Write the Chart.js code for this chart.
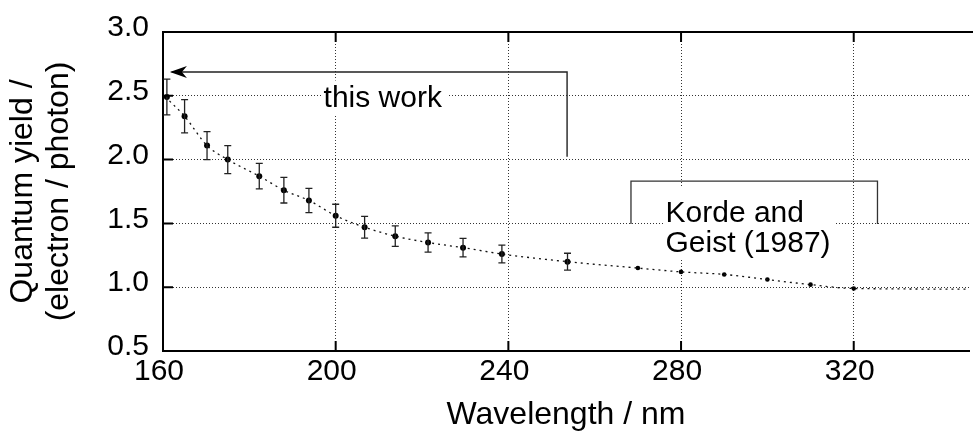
<!DOCTYPE html>
<html>
<head>
<meta charset="utf-8">
<script src="https://cdn.jsdelivr.net/npm/chart.js@4.4.1/dist/chart.umd.min.js"></script>
<style>
html, body { margin: 0; padding: 0; background: #fff; }
#wrap { width: 973px; height: 435px; position: relative; }
</style>
</head>
<body>
<div id="wrap"><canvas id="qyChart"></canvas></div>
<script>
// this work (with error bars)
var workWl = [160.9, 165.0, 170.2, 175.0, 182.3, 188.0, 193.8, 200.0, 206.7, 213.8, 221.4, 229.5, 238.5, 253.7];
var workQy = [2.49, 2.34, 2.11, 2.00, 1.87, 1.76, 1.68, 1.56, 1.47, 1.40, 1.35, 1.31, 1.26, 1.20];
var workErr = [0.14, 0.13, 0.11, 0.11, 0.10, 0.10, 0.095, 0.09, 0.085, 0.08, 0.075, 0.072, 0.07, 0.066];

// Korde and Geist (1987)
var kgWl = [270, 280, 290, 300, 310, 320];
var kgQy = [1.15, 1.12, 1.10, 1.06, 1.02, 0.99];

// dotted guide curve
var fitWl = [161.5, 165.0, 170.2, 175.0, 182.3, 188.0, 193.8, 200.0, 206.7, 213.8, 221.4, 229.5, 238.5, 253.7, 270, 280, 290, 300, 310, 320, 348];
var fitQy = [2.46, 2.34, 2.11, 2.00, 1.87, 1.76, 1.68, 1.56, 1.47, 1.40, 1.35, 1.31, 1.26, 1.20, 1.15, 1.12, 1.10, 1.06, 1.02, 0.99, 0.985];

var xTicks = [160, 200, 240, 280, 320];
var yTicks = [0.5, 1.0, 1.5, 2.0, 2.5, 3.0];

var FONT = "'Liberation Sans', Arial, Helvetica, sans-serif";

function toXY(xs, ys) {
	return xs.map(function (x, i) { return { x: x, y: ys[i] }; });
}

// error bars for "this work"
var errorBars = {
	id: "errorBars",
	afterDatasetsDraw: function (chart) {
		var ctx = chart.ctx, xs = chart.scales.x, ys = chart.scales.y;
		ctx.save();
		ctx.strokeStyle = "#222";
		ctx.lineWidth = 1.3;
		for (var i = 0; i < workWl.length; i++) {
			var px = xs.getPixelForValue(workWl[i]);
			var top = ys.getPixelForValue(workQy[i] + workErr[i]);
			var bot = ys.getPixelForValue(workQy[i] - workErr[i]);
			ctx.beginPath();
			ctx.moveTo(px, top); ctx.lineTo(px, bot);
			ctx.moveTo(px - 3.5, top); ctx.lineTo(px + 3.5, top);
			ctx.moveTo(px - 3.5, bot); ctx.lineTo(px + 3.5, bot);
			ctx.stroke();
		}
		ctx.restore();
	}
};

// top frame line and inward tick marks
var frame = {
	id: "frame",
	afterDraw: function (chart) {
		var ctx = chart.ctx, a = chart.chartArea, xs = chart.scales.x, ys = chart.scales.y;
		ctx.save();
		ctx.strokeStyle = "#000";
		ctx.lineWidth = 2;
		ctx.beginPath();
		ctx.moveTo(a.left - 1, a.top); ctx.lineTo(chart.width, a.top);
		ctx.stroke();
		ctx.beginPath();
		xTicks.forEach(function (v) {
			if (v === xTicks[0]) return;
			var px = xs.getPixelForValue(v);
			ctx.moveTo(px, a.bottom); ctx.lineTo(px, a.bottom - 10);
			ctx.moveTo(px, a.top); ctx.lineTo(px, a.top + 10);
		});
		yTicks.forEach(function (v) {
			if (v === yTicks[0] || v === yTicks[yTicks.length - 1]) return;
			var py = ys.getPixelForValue(v);
			ctx.moveTo(a.left, py); ctx.lineTo(a.left + 10, py);
		});
		ctx.stroke();
		ctx.restore();
	}
};

// labels with their brackets
var notes = {
	id: "notes",
	beforeDatasetsDraw: function (chart) {
		var ctx = chart.ctx, xs = chart.scales.x, ys = chart.scales.y;
		var X = function (v) { return xs.getPixelForValue(v); };
		var Y = function (v) { return ys.getPixelForValue(v); };
		ctx.save();
		ctx.font = "30px " + FONT;
		ctx.fillStyle = "#000";
		ctx.textBaseline = "alphabetic";

		// "this work" arrow
		ctx.fillStyle = "#fff";
		ctx.fillRect(X(196.6), Y(2.62), 126, 34);
		ctx.fillStyle = "#000";
		ctx.fillText("this work", X(197.2), Y(2.41));
		ctx.strokeStyle = "#222";
		ctx.lineWidth = 1.4;
		ctx.beginPath();
		ctx.moveTo(X(162), Y(2.687));
		ctx.lineTo(X(253.6), Y(2.687));
		ctx.lineTo(X(253.6), Y(2.022));
		ctx.stroke();
		ctx.fillStyle = "#000";
		ctx.beginPath();
		ctx.moveTo(X(161.6), Y(2.687));
		ctx.lineTo(X(161.6) + 17, Y(2.687) - 6);
		ctx.lineTo(X(161.6) + 12, Y(2.687));
		ctx.lineTo(X(161.6) + 17, Y(2.687) + 6);
		ctx.closePath();
		ctx.fill();

		// "Korde and Geist (1987)" bracket
		ctx.fillStyle = "#fff";
		ctx.fillRect(X(276), Y(1.78), 172, 72);
		ctx.strokeStyle = "#333";
		ctx.lineWidth = 1.3;
		ctx.beginPath();
		ctx.moveTo(X(268.4), Y(1.496));
		ctx.lineTo(X(268.4), Y(1.831));
		ctx.lineTo(X(325.5), Y(1.831));
		ctx.lineTo(X(325.5), Y(1.496));
		ctx.stroke();
		ctx.fillStyle = "#000";
		ctx.fillText("Korde and", X(276.4), Y(1.508));
		ctx.fillText("Geist (1987)", X(276.4), Y(1.279));
		ctx.restore();
	}
};

new Chart(document.getElementById("qyChart"), {
	type: "scatter",
	data: {
		datasets: [
			{
				label: "curve",
				data: toXY(fitWl, fitQy),
				showLine: true,
				pointRadius: 0,
				borderColor: "#111",
				borderWidth: 1.3,
				borderDash: [2, 4],
				cubicInterpolationMode: "monotone"
			},
			{
				label: "this work",
				data: toXY(workWl, workQy),
				pointRadius: 3,
				pointBackgroundColor: "#000",
				pointBorderColor: "#000",
				pointBorderWidth: 0
			},
			{
				label: "Korde and Geist (1987)",
				data: toXY(kgWl, kgQy),
				pointRadius: 2.3,
				pointBackgroundColor: "#000",
				pointBorderColor: "#000",
				pointBorderWidth: 0
			}
		]
	},
	options: {
		responsive: true,
		maintainAspectRatio: false,
		animation: false,
		layout: { padding: { top: 28, right: 0, left: 0, bottom: 0 } },
		plugins: {
			legend: { display: false },
			tooltip: { enabled: false }
		},
		scales: {
			x: {
				type: "linear",
				min: 160,
				max: 346.7,
				afterFit: function (s) { s.height = 84; },
				afterBuildTicks: function (s) { s.ticks = xTicks.map(function (v) { return { value: v }; }); },
				grid: { color: "#333", lineWidth: 1, drawTicks: false },
				border: { color: "#000", width: 2, dash: [1, 2] },
				ticks: {
					color: "#000",
					padding: 3,
					labelOffset: -4,
					maxRotation: 0,
					font: { family: FONT, size: 30 },
					callback: function (v) { return v; }
				},
				title: {
					display: true,
					text: "Wavelength / nm",
					color: "#000",
					font: { family: FONT, size: 32 },
					padding: { top: 0, bottom: 1 }
				}
			},
			y: {
				type: "linear",
				min: 0.5,
				max: 3.0,
				afterFit: function (s) { s.width = 163; },
				afterBuildTicks: function (s) { s.ticks = yTicks.map(function (v) { return { value: v }; }); },
				grid: { color: "#333", lineWidth: 1, drawTicks: false },
				border: { color: "#000", width: 2, dash: [1, 2] },
				ticks: {
					color: "#000",
					padding: 14,
					labelOffset: -4,
					font: { family: FONT, size: 30 },
					callback: function (v) { return v.toFixed(1); }
				},
				title: {
					display: true,
					text: ["Quantum yield /", "(electron / photon)"],
					color: "#000",
					font: { family: FONT, size: 32, lineHeight: 1.1 },
					padding: { top: 6, bottom: 0 }
				}
			}
		}
	},
	plugins: [errorBars, frame, notes]
});
</script>
</body>
</html>
